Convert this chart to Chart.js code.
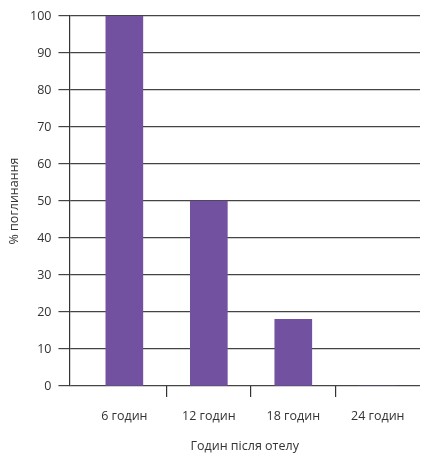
<!DOCTYPE html>
<html>
<head>
<meta charset="utf-8">
<script src="https://cdn.jsdelivr.net/npm/chart.js@4"></script>
<style>
  html, body { margin: 0; padding: 0; background: #fff; }
  #wrap { width: 422px; height: 454px; }
</style>
</head>
<body>
<div id="wrap"><canvas id="chart"></canvas></div>
<script>
const categories = ["6 годин", "12 годин", "18 годин", "24 годин"];
const values = [100, 50, 18, 0];
const yTicks = [0, 10, 20, 30, 40, 50, 60, 70, 80, 90, 100];

const textColor = "#333";
const font = { family: "Open Sans", size: 12.5 };

// bars sit on a numeric x scale so the first category can be offset from the y axis
const points = values.map((v, i) => ({ x: i, y: v }));

new Chart(document.getElementById("chart"), {
  type: "bar",
  data: {
    datasets: [{
      data: points,
      backgroundColor: "#7151a0",
      borderWidth: 0,
      barThickness: 37,
      xAxisID: "x"
    }]
  },
  options: {
    responsive: true,
    maintainAspectRatio: false,
    animation: false,
    layout: { padding: { top: 16, right: 2, left: 0, bottom: 0 } },
    plugins: { legend: { display: false }, tooltip: { enabled: false } },
    scales: {
      marks: {
        type: "linear",
        position: "bottom",
        weight: 1,
        offset: false,
        min: -0.65,
        max: 3.5,
        afterBuildTicks: axis => { axis.ticks = [0.5, 1.5, 2.5].map(v => ({ value: v })); },
        ticks: { display: false },
        grid: { offset: false, drawOnChartArea: false, tickLength: 11, color: textColor, lineWidth: 1.2 },
        border: { display: false }
      },
      x: {
        type: "linear",
        position: "bottom",
        weight: 2,
        offset: false,
        min: -0.65,
        max: 3.5,
        afterBuildTicks: axis => { axis.ticks = categories.map((c, i) => ({ value: i })); },
        ticks: {
          color: textColor,
          font,
          padding: 4,
          maxRotation: 0,
          autoSkip: false,
          callback: v => categories[v]
        },
        grid: { display: false, offset: false },
        border: { display: false },
        title: { display: true, text: "Годин після отелу", color: textColor, font, padding: { top: 11, bottom: 0 } }
      },
      y: {
        min: 0,
        max: 100,
        afterBuildTicks: axis => { axis.ticks = yTicks.map(v => ({ value: v })); },
        ticks: { color: textColor, font, padding: 7 },
        grid: { color: "#444", lineWidth: 1.2, tickLength: 11 },
        border: { color: textColor, width: 1.2 },
        title: { display: true, text: "% поглинання", color: textColor, font, padding: { top: 7, bottom: 1 } }
      }
    }
  }
});
</script>
</body>
</html>
